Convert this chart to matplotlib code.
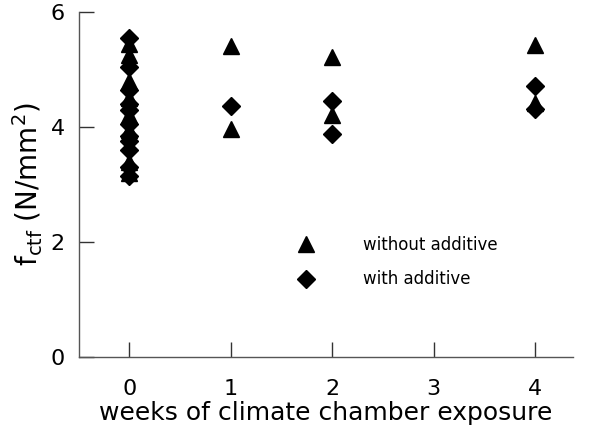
import matplotlib
matplotlib.use("Agg")
import matplotlib.pyplot as plt

# weeks in climate chamber and measured f_ctf (N/mm2)
weeks_without = [0, 0, 0, 0, 0, 0, 0, 0, 1, 1, 2, 2, 4, 4]
fctf_without = [5.45, 5.25, 4.8, 4.5, 4.2, 3.95, 3.4, 3.2,
                5.4, 3.97, 5.22, 4.2, 5.42, 4.42]

weeks_with = [0, 0, 0, 0, 0, 0, 0, 0, 0, 0, 0, 1, 2, 2, 4, 4]
fctf_with = [5.55, 5.05, 4.65, 4.4, 4.3, 4.05, 3.85, 3.75, 3.6, 3.3, 3.15,
             4.36, 4.45, 3.88, 4.72, 4.32]

xticks = [0, 1, 2, 3, 4]
yticks = [0, 2, 4, 6]

plt.rcParams['font.family'] = ['DejaVu Sans']

fig = plt.figure(figsize=(5.97, 4.43), dpi=100)
ax = fig.add_axes([0.132, 0.194, 0.827, 0.779])

ax.plot(weeks_without, fctf_without, '^', color='black', ms=12, ls='none',
        label='without additive')
ax.plot(weeks_with, fctf_with, 'D', color='black', ms=9.5, ls='none',
        label='with additive')

ax.set_xlim(-0.5, 4.37)
ax.set_ylim(0, 6)
ax.set_xticks(xticks)
ax.set_yticks(yticks)

ax.spines['top'].set_visible(False)
ax.spines['right'].set_visible(False)
for s in ['left', 'bottom']:
    ax.spines[s].set_color('#555555')
    ax.spines[s].set_linewidth(1)
ax.tick_params(direction='in', length=11, width=1, color='#333333',
               labelsize=16)
ax.tick_params(axis='x', pad=16)
ax.tick_params(axis='y', pad=10)

ax.set_xlabel('weeks of climate chamber exposure', fontsize=18, labelpad=1)
ax.set_ylabel(r'f$_\mathregular{ctf}$ (N/mm$^\mathregular{2}$)', fontsize=20,
              labelpad=4)

ax.legend(loc='upper left', bbox_to_anchor=(0.404, 0.395), frameon=False,
          fontsize=12, handletextpad=2.7, labelspacing=1.0, handlelength=1.5)

fig.savefig("out.png")
